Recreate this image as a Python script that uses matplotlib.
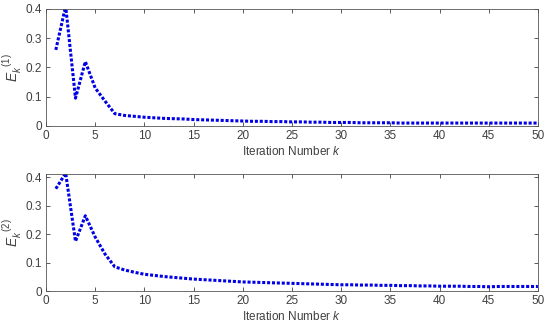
import matplotlib
matplotlib.use("Agg")
import matplotlib.pyplot as plt

k = list(range(1, 51))

e1 = [0.26, 0.41, 0.095, 0.22, 0.13, 0.085, 0.042, 0.036, 0.033, 0.030,
      0.028, 0.026, 0.025, 0.024, 0.022, 0.021, 0.020, 0.019, 0.018, 0.017,
      0.016, 0.016, 0.015, 0.015, 0.014, 0.014, 0.013, 0.013, 0.012, 0.012,
      0.012, 0.011, 0.011, 0.011, 0.011, 0.010, 0.010, 0.010, 0.010, 0.010,
      0.010, 0.010, 0.010, 0.010, 0.010, 0.010, 0.010, 0.010, 0.010, 0.010]

e2 = [0.36, 0.415, 0.175, 0.265, 0.19, 0.13, 0.085, 0.074, 0.066, 0.059,
      0.055, 0.051, 0.048, 0.045, 0.042, 0.040, 0.038, 0.036, 0.034, 0.032,
      0.031, 0.030, 0.029, 0.028, 0.027, 0.026, 0.025, 0.024, 0.023, 0.022,
      0.022, 0.021, 0.021, 0.020, 0.020, 0.019, 0.019, 0.018, 0.018, 0.017,
      0.017, 0.017, 0.016, 0.016, 0.015, 0.016, 0.016, 0.016, 0.016, 0.016]

xticks = list(range(0, 51, 5))
yticks = [0, 0.1, 0.2, 0.3, 0.4]
yticklabels = ["0", "0.1", "0.2", "0.3", "0.4"]

plt.rcParams["font.family"] = ["Liberation Sans", "DejaVu Sans"]
plt.rcParams["mathtext.fontset"] = "custom"
plt.rcParams["mathtext.it"] = "Liberation Sans:italic"
plt.rcParams["mathtext.rm"] = "Liberation Sans"

gray = "#404040"
fig = plt.figure(figsize=(5.5, 3.27), dpi=100)
ax1 = fig.add_axes([0.0836, 0.6147, 0.8944, 0.358])
ax2 = fig.add_axes([0.0836, 0.110, 0.8944, 0.358])

for ax, e, top, lab in [(ax1, e1, 0.40, r"$E_k^{\ \ (1)}$"), (ax2, e2, 0.412, r"$E_k^{\ \ (2)}$")]:
    ax.plot(k, e, color="#0000e6", linestyle=(0, (1, 0.6)), linewidth=2.2)
    ax.set_xlim(0, 50)
    ax.set_ylim(0, top)
    ax.set_xticks(xticks)
    ax.set_yticks(yticks)
    ax.set_yticklabels(yticklabels)
    ax.tick_params(direction="in", top=True, right=True, length=3, width=0.6,
                   labelsize=8.5, colors=gray, pad=3)
    for s in ax.spines.values():
        s.set_color("#555555")
        s.set_linewidth(0.6)
    ax.set_xlabel(r"Iteration Number $k$", fontsize=8.5, color=gray, labelpad=2)
    ax.set_ylabel(lab, fontsize=10, color=gray, labelpad=1)

fig.savefig("out.png", dpi=100)
